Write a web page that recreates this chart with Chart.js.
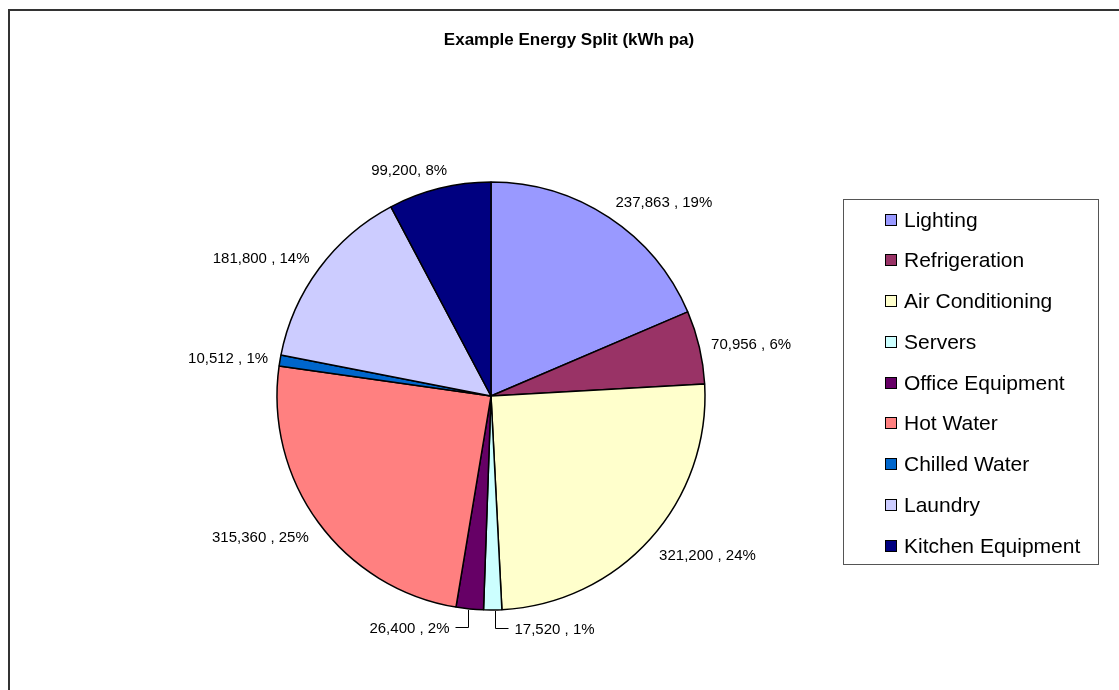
<!DOCTYPE html>
<html>
<head>
<meta charset="utf-8">
<title>Example Energy Split (kWh pa)</title>
<script src="https://cdn.jsdelivr.net/npm/chart.js@4"></script>
<style>
  html, body { margin: 0; padding: 0; background: #ffffff; }
  #wrap { position: relative; width: 1119px; height: 690px; }
</style>
</head>
<body>
<div id="wrap"><canvas id="energyPie"></canvas></div>
<script>
// Annual energy use by end use (kWh per annum)
const categories = ['Lighting', 'Refrigeration', 'Air Conditioning', 'Servers', 'Office Equipment',
                    'Hot Water', 'Chilled Water', 'Laundry', 'Kitchen Equipment'];
const energyKWh = [237863, 70956, 321200, 17520, 26400, 315360, 10512, 181800, 99200];
const sharePercent = [19, 6, 24, 1, 2, 25, 1, 14, 8];
const labelJoiners = [' , ', ' , ', ' , ', ' , ', ' , ', ' , ', ' , ', ' , ', ', '];
const sliceColours = ['#9999FF', '#993366', '#FFFFCC', '#CCFFFF', '#660066',
                      '#FF8080', '#0066CC', '#CCCCFF', '#000080'];
const chartTitle = 'Example Energy Split (kWh pa)';

const FONT = '"Liberation Sans", Arial, Helvetica, sans-serif';

// Outer frame, title and boxed legend
const decorations = {
  id: 'decorations',
  beforeDraw(chart) {
    const ctx = chart.ctx;
    ctx.save();
    ctx.fillStyle = '#ffffff';
    ctx.fillRect(0, 0, chart.width, chart.height);
    ctx.strokeStyle = '#333333';
    ctx.lineWidth = 2;
    ctx.beginPath();
    ctx.moveTo(9, chart.height);
    ctx.lineTo(9, 10);
    ctx.lineTo(chart.width, 10);
    ctx.stroke();
    ctx.restore();
  },
  afterDraw(chart) {
    const ctx = chart.ctx;
    ctx.save();
    ctx.fillStyle = '#000000';
    ctx.font = 'bold 17px ' + FONT;
    ctx.textAlign = 'center';
    ctx.textBaseline = 'middle';
    ctx.fillText(chartTitle, 569, 40);

    // legend
    const box = { x: 843.5, y: 199.5, w: 255, h: 365 };
    ctx.fillStyle = '#ffffff';
    ctx.fillRect(box.x, box.y, box.w, box.h);
    ctx.strokeStyle = '#555555';
    ctx.lineWidth = 1;
    ctx.strokeRect(box.x, box.y, box.w, box.h);
    ctx.font = '21px ' + FONT;
    ctx.textAlign = 'left';
    const colours = chart.data.datasets[0].backgroundColor;
    chart.data.labels.forEach((name, i) => {
      const cy = Math.round(219.5 + i * 40.75);
      ctx.fillStyle = colours[i];
      ctx.fillRect(885.5, cy - 5.5, 11, 11);
      ctx.strokeStyle = '#000000';
      ctx.strokeRect(885.5, cy - 5.5, 11, 11);
      ctx.fillStyle = '#000000';
      ctx.fillText(name, 904, cy + 1);
    });
    ctx.restore();
  }
};

// Value and share labels outside each slice; near-vertical thin slices get an elbow leader
const sliceLabels = {
  id: 'sliceLabels',
  afterDatasetsDraw(chart) {
    const ctx = chart.ctx;
    const meta = chart.getDatasetMeta(0);
    ctx.save();
    ctx.font = '15px ' + FONT;
    ctx.fillStyle = '#000000';
    ctx.textBaseline = 'middle';
    meta.data.forEach((arc, i) => {
      const p = arc.getProps(['x', 'y', 'startAngle', 'endAngle', 'outerRadius'], true);
      const mid = (p.startAngle + p.endAngle) / 2;
      const dx = Math.cos(mid), dy = Math.sin(mid);
      const text = energyKWh[i].toLocaleString('en-US') + labelJoiners[i] + sharePercent[i] + '%';
      const w = ctx.measureText(text).width;
      const ex = p.x + p.outerRadius * dx, ey = p.y + p.outerRadius * dy;
      if (Math.abs(dx) < 0.2 && dy > 0) {
        const s = dx >= 0 ? 1 : -1;
        const ly = Math.round(ey + 18) + 0.5;
        const lx = Math.round(ex + 2 * s) + 0.5;
        ctx.strokeStyle = '#000000';
        ctx.lineWidth = 1;
        ctx.beginPath();
        ctx.moveTo(lx, ey + 1);
        ctx.lineTo(lx, ly);
        ctx.lineTo(lx + 13 * s, ly);
        ctx.stroke();
        ctx.textAlign = s > 0 ? 'left' : 'right';
        ctx.fillText(text, lx + 19 * s, ly + 1);
      } else {
        const R = p.outerRadius + 12;
        const px = p.x + R * dx, py = p.y + R * dy;
        const fx = Math.max(-1, Math.min(1, 3 * dx));
        ctx.textAlign = 'center';
        ctx.fillText(text, px + fx * w / 2, py + (dy > 0 ? 10 : 8) * dy + 2);
      }
    });
    ctx.restore();
  }
};

new Chart(document.getElementById('energyPie'), {
  type: 'pie',
  data: {
    labels: categories,
    datasets: [{
      data: energyKWh,
      backgroundColor: sliceColours,
      borderColor: '#000000',
      borderWidth: 1.5
    }]
  },
  options: {
    responsive: true,
    maintainAspectRatio: false,
    devicePixelRatio: 1,
    animation: false,
    radius: 214,
    layout: { padding: { left: 150, right: 287, top: 160, bottom: 58 } },
    plugins: {
      legend: { display: false },
      title: { display: false },
      tooltip: { enabled: false }
    }
  },
  plugins: [decorations, sliceLabels]
});
</script>
</body>
</html>
